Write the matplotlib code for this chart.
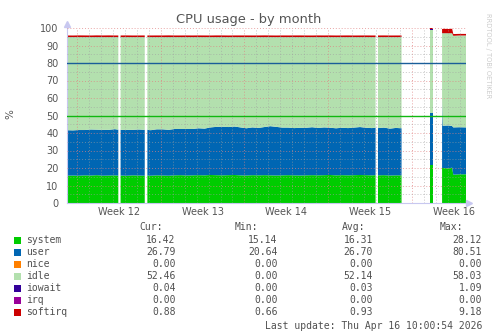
import matplotlib
matplotlib.use("Agg")
import matplotlib.pyplot as plt
import matplotlib.transforms as mtransforms
import numpy as np
from matplotlib.patches import Rectangle

nan = np.nan

#%% Data (time in days from left edge of graph, NaN = no data)
t = [0, 0.5, 1, 1.5, 2, 2.5, 3, 3.5, 4, 4.29,
     4.38,
     4.48, 5.0, 5.5, 6.0, 6.5,
     6.6,
     6.72, 7.0, 7.5, 8.0, 8.5, 9.0, 9.5, 10.0, 10.5, 11.0,
     11.5, 12.0, 12.5, 13.0, 13.5, 14.0, 14.5, 15.0, 15.5, 16.0,
     16.5, 17.0, 17.5, 18.0, 18.5, 19.0, 19.5, 20.0, 20.5, 21.0,
     21.5, 22.0, 22.5, 23.0, 23.5, 24.0, 24.5, 25.0, 25.5, 25.8,
     25.9,
     26.0, 26.5, 27.0, 27.5, 27.97,
     29.0,
     30.37, 30.58,
     31.0,
     31.36, 31.42, 31.45, 31.9, 32.2, 32.3, 32.8, 33.36]

system = [15.6, 15.7, 15.6, 15.8, 15.7, 15.9, 15.6, 15.7, 15.8, 15.6,
          nan,
          15.7, 15.6, 15.8, 15.7, 15.6,
          nan,
          15.7, 15.6, 15.8, 15.7, 15.6, 15.8, 15.9, 15.7, 15.8, 15.9,
          15.8, 16.0, 15.9, 15.8, 15.9, 16.0, 15.8, 15.7, 15.9, 15.8,
          15.9, 15.8, 15.7, 15.8, 15.9, 15.8, 15.7, 15.8, 15.9, 15.8,
          15.9, 16.0, 15.8, 15.9, 15.8, 15.9, 16.0, 15.9, 15.8, 15.9,
          nan,
          15.8, 15.9, 15.7, 15.8, 15.8,
          nan,
          21.7, 21.7,
          nan,
          20.0, 20.0, 20.0, 19.8, 20.2, 16.2, 16.4, 16.4]

user = [26.0, 25.8, 26.1, 25.9, 26.3, 26.0, 26.2, 26.1, 26.4, 26.3,
        nan,
        26.1, 26.2, 26.0, 26.3, 26.2,
        nan,
        26.2, 26.0, 26.3, 26.4, 26.2, 26.5, 26.4, 26.6, 26.5, 26.8,
        26.7, 27.2, 27.6, 27.8, 27.5, 27.7, 27.4, 27.0, 27.3, 27.1,
        27.5, 28.1, 27.8, 27.3, 27.2, 27.0, 27.3, 27.2, 27.4, 27.1,
        27.3, 27.0, 26.9, 27.1, 27.0, 27.2, 27.4, 27.1, 27.0, 27.2,
        nan,
        27.0, 27.2, 26.8, 27.1, 26.9,
        nan,
        30.0, 30.0,
        nan,
        40.0, 24.0, 24.2, 24.5, 23.8, 27.0, 26.9, 26.8]

nice = [0.0 if v == v else nan for v in system]

idle = [53.2, 53.3, 53.1, 53.1, 52.8, 52.9, 53.0, 53.0, 52.6, 52.9,
        nan,
        53.0, 53.0, 53.0, 52.8, 53.0,
        nan,
        52.9, 53.2, 52.7, 52.7, 53.0, 52.5, 52.5, 52.5, 52.5, 52.1,
        52.3, 51.6, 51.3, 51.2, 51.4, 51.1, 51.6, 52.1, 51.6, 51.9,
        51.4, 50.9, 51.3, 51.7, 51.7, 52.0, 51.8, 51.8, 51.5, 51.9,
        51.6, 51.8, 52.1, 51.8, 52.0, 51.7, 51.4, 51.8, 52.0, 51.7,
        nan,
        52.0, 51.7, 52.3, 51.9, 52.1,
        nan,
        47.4, 47.4,
        nan,
        37.0, 53.0, 52.8, 52.7, 53.0, 52.3, 52.4, 52.5]

iowait = [0.03, 0.05, 0.02, 0.04, 0.03, 0.06, 0.03, 0.02, 0.05, 0.03,
          nan,
          0.03, 0.04, 0.03, 0.02, 0.03,
          nan,
          0.03, 0.04, 0.02, 0.03, 0.05, 0.03, 0.02, 0.03, 0.04, 0.03,
          0.03, 0.02, 0.03, 0.05, 0.03, 0.03, 0.04, 0.02, 0.03, 0.03,
          0.04, 0.03, 0.02, 0.03, 0.03, 0.05, 0.03, 0.02, 0.03, 0.04,
          0.03, 0.03, 0.02, 0.03, 0.04, 0.03, 0.03, 0.02, 0.03, 0.03,
          nan,
          0.03, 0.04, 0.03, 0.02, 0.03,
          nan,
          0.10, 0.10,
          nan,
          0.04, 0.04, 0.04, 0.03, 0.04, 0.04, 0.03, 0.04]

irq = [0.0 if v == v else nan for v in system]

softirq = [0.90, 0.85, 0.95, 0.90, 0.88, 0.92, 0.90, 0.95, 0.87, 0.90,
           nan,
           0.90, 0.92, 0.88, 0.90, 0.91,
           nan,
           0.90, 0.88, 0.92, 0.90, 0.93, 0.89, 0.90, 0.91, 0.88, 0.92,
           0.90, 0.89, 0.93, 0.90, 0.88, 0.91, 0.90, 0.92, 0.89, 0.90,
           0.93, 0.90, 0.88, 0.91, 0.90, 0.89, 0.92, 0.90, 0.88, 0.91,
           0.90, 0.92, 0.89, 0.90, 0.91, 0.88, 0.90, 0.92, 0.89, 0.90,
           nan,
           0.90, 0.91, 0.88, 0.90, 0.90,
           nan,
           0.80, 0.80,
           nan,
           2.40, 2.40, 2.50, 2.40, 2.50, 1.00, 0.90, 0.88]

series_names = ["system", "user", "nice", "idle", "iowait", "irq", "softirq"]
series_colors = ["#00CC00", "#0066B3", "#FF8000", "#B3E0AE", "#330099", "#990099", "#CC0000"]
series_values = [system, user, nice, idle, iowait, irq, softirq]

cur_vals = [16.42, 26.79, 0.00, 52.46, 0.04, 0.00, 0.88]
min_vals = [15.14, 20.64, 0.00, 0.00, 0.00, 0.00, 0.66]
avg_vals = [16.31, 26.70, 0.00, 52.14, 0.03, 0.00, 0.93]
max_vals = [28.12, 80.51, 0.00, 58.03, 1.09, 0.00, 9.18]

week_start = 0.836          # day offset of first Monday (Week 12)
week_labels = ["Week 12", "Week 13", "Week 14", "Week 15", "Week 16"]
x_end = 33.36

warn_lines = [(80, "#1a5e99"), (50, "#10b810")]

last_update = "Last update: Thu Apr 16 10:00:54 2026"

#%% Figure
W, H = 497, 336
fig = plt.figure(figsize=(W / 100, H / 100), dpi=100)
fig.patch.set_facecolor("white")
ax = fig.add_axes([67 / W, 1 - 203 / H, 399 / W, 175 / H])

TXT = "#555555"

tt = np.array(t, dtype=float)
base = np.zeros_like(tt)
for name, color, vals in zip(series_names, series_colors, series_values):
    top = base + np.array(vals, dtype=float)
    ax.fill_between(tt, base, top, facecolor=color, linewidth=0, zorder=1)
    base = top

for level, color in warn_lines:
    ax.axhline(level, color=color, linewidth=1.0, zorder=3)

ax.set_xlim(0, x_end)
ax.set_ylim(0, 100)

week_ticks = np.arange(week_start, x_end, 7)
day_ticks = np.arange(week_start, x_end, 1)
ax.set_xticks(week_ticks)
ax.set_xticks(day_ticks, minor=True)
ax.set_xticklabels([])
ax.set_yticks(np.arange(0, 101, 10))
ax.set_yticks(np.arange(5, 100, 10), minor=True)

ax.set_axisbelow(False)
ax.grid(which="major", color="#e08080", linestyle=(0, (1, 2)), linewidth=0.7, alpha=0.7, zorder=2)
ax.grid(which="minor", color="#a0a0a0", linestyle=(0, (1, 2)), linewidth=0.7, alpha=0.6, zorder=2)

ax.tick_params(axis="both", which="both", length=0, colors=TXT, labelsize=7)
ax.tick_params(axis="y", pad=6)

blend = mtransforms.blended_transform_factory(ax.transData, ax.transAxes)
for i, lab in enumerate(week_labels):
    ax.text(week_start + 3.5 + 7 * i, -0.05, lab, transform=blend, ha="center", va="center",
            fontsize=7, color=TXT)

for side in ["top", "right"]:
    ax.spines[side].set_visible(False)
for side in ["left", "bottom"]:
    ax.spines[side].set_color("#c8c8f0")
    ax.spines[side].set_linewidth(0.8)
ax.plot([0], [1.025], marker="^", markersize=4, color="#c8c8f0", transform=ax.transAxes, clip_on=False)
ax.plot([1.008], [0], marker=">", markersize=4, color="#c8c8f0", transform=ax.transAxes, clip_on=False)

fig.text(0.5, 1 - 20 / H, "CPU usage - by month", ha="center", va="center", fontsize=9.4, color=TXT)
fig.text(10 / W, 1 - 114 / H, "%", rotation=90, ha="center", va="center", fontsize=7.5, color=TXT)
fig.text(488 / W, 1 - 56 / H, "RRDTOOL / TOBI OETIKER", rotation=270, ha="center", va="center",
         fontsize=4.8, color="#cccccc")

#%% Legend
mono = "DejaVu Sans Mono"
LC = "#505050"
hdr_y = 227
for label, xr in [("Cur:", 163), ("Min:", 258), ("Avg:", 365), ("Max:", 463)]:
    fig.text(xr / W, 1 - hdr_y / H, label, ha="right", va="center", fontsize=7, family=mono, color=LC)

for i, name in enumerate(series_names):
    y = 240 + 12 * i
    fig.patches.append(Rectangle((14 / W, 1 - (y + 3.5) / H), 7 / W, 7 / H, transform=fig.transFigure,
                                 facecolor=series_colors[i], edgecolor="none"))
    fig.text(26.5 / W, 1 - y / H, name, ha="left", va="center", fontsize=7, family=mono, color=LC)
    for xr, vals in [(175.5, cur_vals), (277.5, min_vals), (373, avg_vals), (482, max_vals)]:
        fig.text(xr / W, 1 - y / H, f"{vals[i]:.2f}", ha="right", va="center", fontsize=7,
                 family=mono, color=LC)

fig.text(482 / W, 1 - 326 / H, last_update, ha="right", va="center", fontsize=7, family=mono, color=LC)

fig.savefig("out.png", dpi=100)
